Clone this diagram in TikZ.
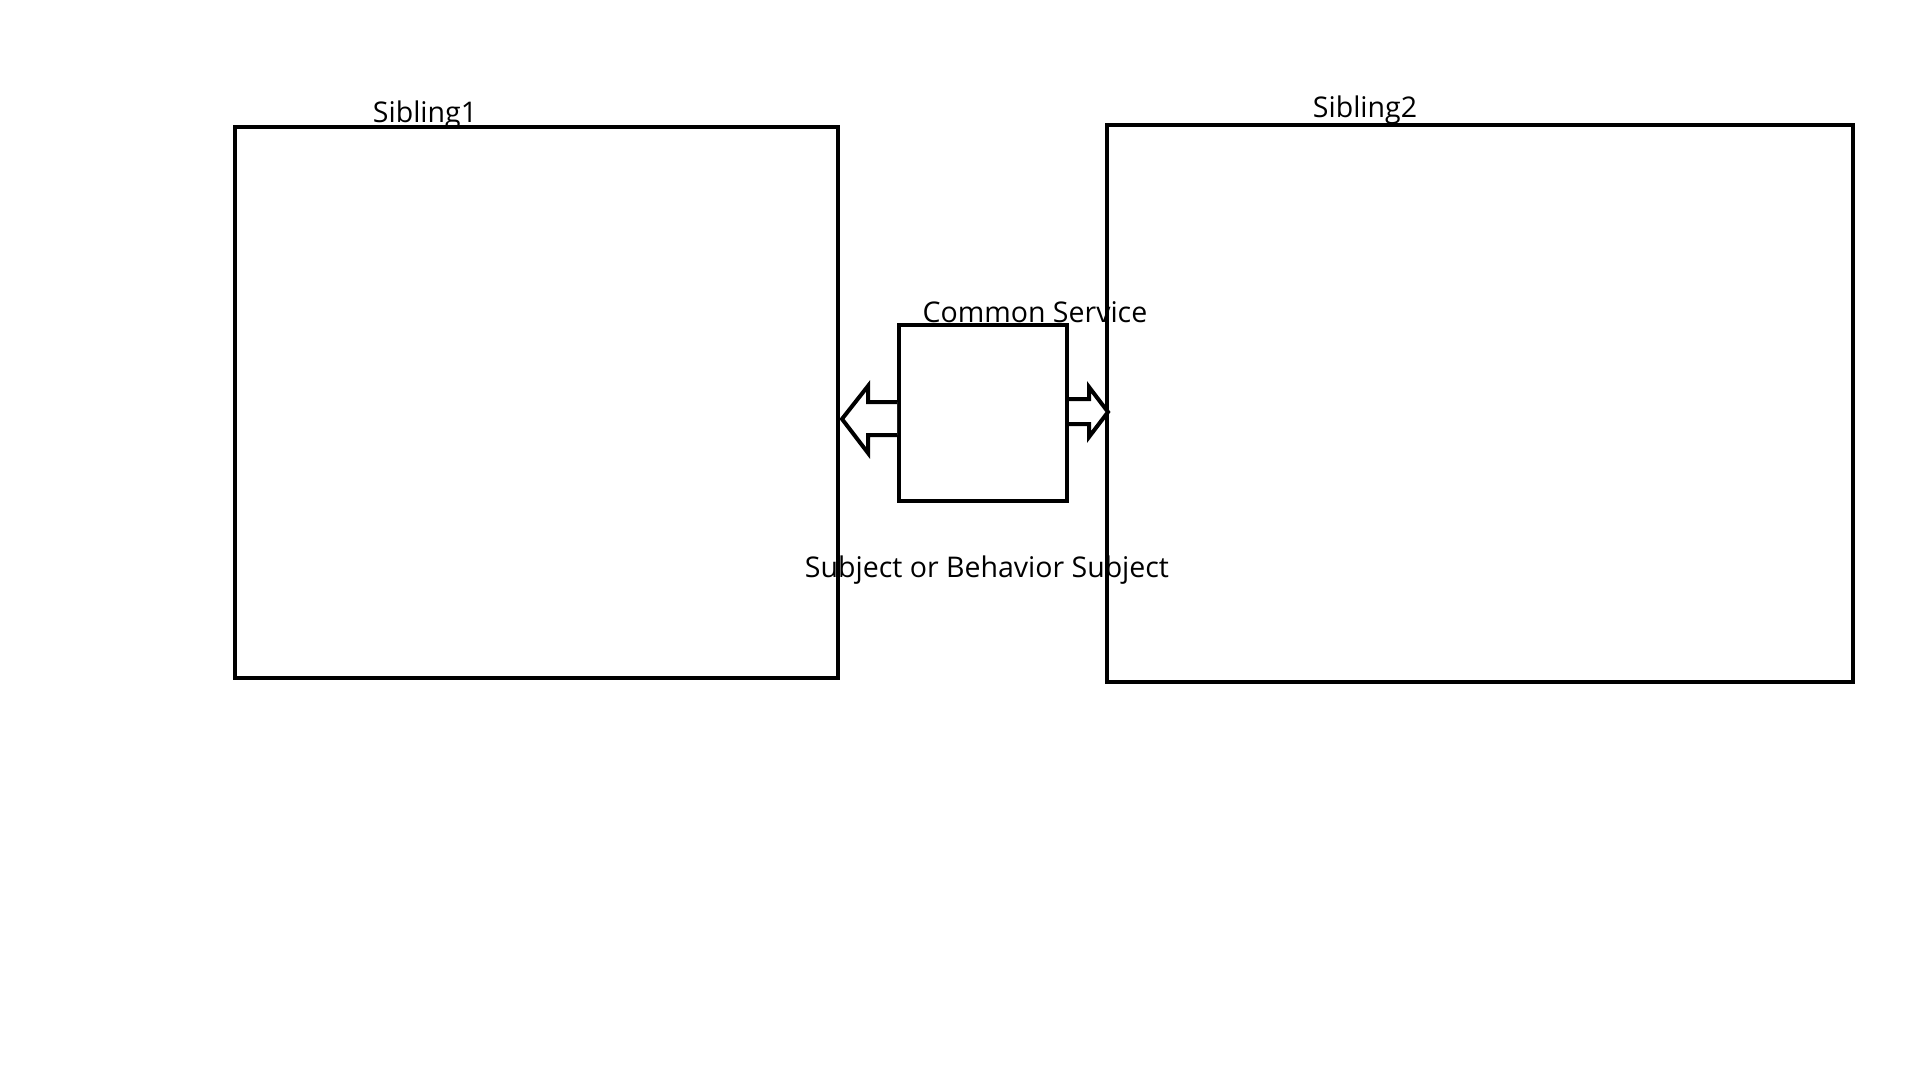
\documentclass[tikz,border=0pt]{standalone}
\usepackage{fontspec}
\setmainfont{Open Sans}
\begin{document}
\begin{tikzpicture}[x=1pt,y=-1pt,
  box/.style={draw=black,line width=4pt,fill=none,inner sep=0pt,anchor=north west},
  lbl/.style={font=\fontsize{28.5}{34}\selectfont,anchor=base,inner sep=0pt},
  blockarrow/.style={draw=black,line width=4pt,fill=white,line join=miter}]
\path[use as bounding box] (0,0) rectangle (1914,1087);
\node[box,minimum width=603pt,minimum height=551pt] (s1) at (233,125) {};
\node[box,minimum width=746pt,minimum height=557pt] (s2) at (1105,123) {};
\node[box,minimum width=168pt,minimum height=176pt] (cs) at (897,323) {};
\node[lbl] (t1) at (425,122) {Sibling1};
\node[lbl] (t2) at (1365,117) {Sibling2};
\node[lbl] (t3) at (1035,322) {Common Service};
\node[lbl] (t4) at (987,577) {Subject or Behavior Subject};
% left block arrow
\draw[blockarrow] (cs.west |- 0,402) -- (868,402) -- (868,386) -- (842,419) -- (868,453) -- (868,435) -- (cs.west |- 0,435);
% right block arrow
\draw[blockarrow] (cs.east |- 0,399) -- (1089,399) -- (1089,387) -- (1108,412) -- (1089,437) -- (1089,424) -- (cs.east |- 0,424);
\end{tikzpicture}
\end{document}
